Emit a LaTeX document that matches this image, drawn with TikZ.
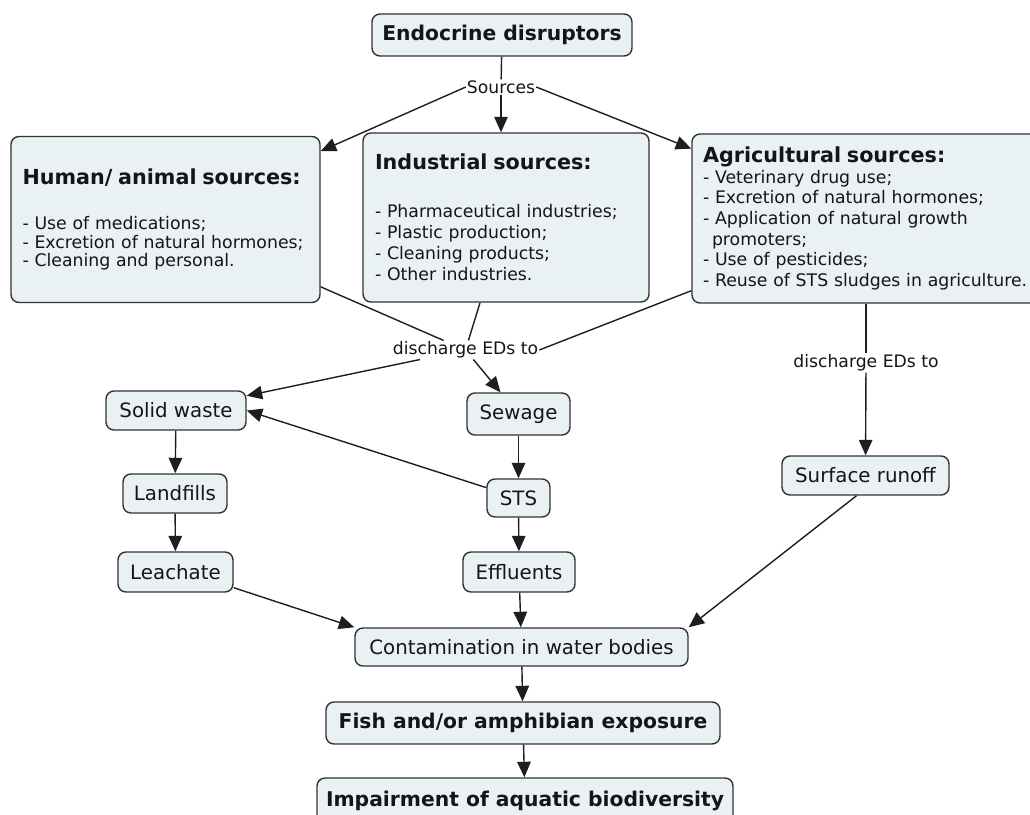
\documentclass[tikz,border=0pt]{standalone}
\usepackage{fontspec}
\setmainfont{DejaVu Sans}
\usetikzlibrary{arrows.meta}
\definecolor{boxfill}{HTML}{EAF1F4}
\definecolor{boxline}{HTML}{333333}
\definecolor{lineclr}{HTML}{1E1E1E}
\definecolor{txt}{HTML}{151515}
\tikzset{
  box/.style={draw=boxline, fill=boxfill, rounded corners=8pt, line width=1.4pt, inner sep=0pt, text=txt},
  smallbox/.style={box, font=\fontsize{19.8}{23}\selectfont},
  boldbox/.style={box, font=\bfseries\fontsize{20.3}{24}\selectfont},
  bigbox/.style={box, align=left, font=\fontsize{17.3}{20.6}\selectfont},
  lbl/.style={font=\fontsize{17.2}{20}\selectfont, inner sep=1pt, text=txt},
  conn/.style={line width=1.4pt, draw=lineclr},
  arr/.style={conn, -{Triangle[length=15.5pt,width=13.5pt]}},
}
\newcommand{\hd}[1]{{\bfseries\fontsize{20.7}{24}\selectfont #1}}
\begin{document}
\begin{tikzpicture}[x=1pt,y=-1pt]
\useasboundingbox (0,0) rectangle (1030,814);
% top
\node[boldbox, minimum width=260pt, minimum height=42pt] (ed) at (502,35) {Endocrine disruptors};
\node[lbl] (src) at (501,87) {Sources};
% source boxes
\node[bigbox, minimum width=309pt, minimum height=166pt, text width=286pt,
      font=\fontsize{17.3}{18.3}\selectfont] (human) at (165.5,219.5)
  {\hd{Human/ animal sources:}\\[27pt]
   - Use of medications;\\
   - Excretion of natural hormones;\\
   - Cleaning and personal.};
\node[bigbox, minimum width=286pt, minimum height=169pt, text width=262pt,
      font=\fontsize{17.3}{21}\selectfont] (ind) at (506,217.5)
  {\hd{Industrial sources:}\\[27pt]
   - Pharmaceutical industries;\\
   - Plastic production;\\
   - Cleaning products;\\
   - Other industries.};
\node[bigbox, minimum width=352pt, minimum height=169pt, text width=330pt] (agri) at (868,218.5)
  {\hd{Agricultural sources:}\\
   - Veterinary drug use;\\
   - Excretion of natural hormones;\\
   - Application of natural growth\\
   \hspace*{9pt}promoters;\\
   - Use of pesticides;\\
   - Reuse of STS sludges in agriculture.};
% labels
\node[lbl] (dis1) at (465.5,350) {discharge EDs to};
\node[lbl] (dis2) at (866,363) {discharge EDs to};
% middle nodes
\node[smallbox, minimum width=140pt, minimum height=39pt] (solid) at (176,410.5) {Solid waste};
\node[smallbox, minimum width=103pt, minimum height=42pt] (sewage) at (518.5,414) {Sewage};
\node[smallbox, minimum width=104pt, minimum height=39pt] (land) at (175,493.5) {Landfills};
\node[smallbox, minimum width=63pt, minimum height=38pt] (sts) at (518.5,498) {STS};
\node[smallbox, minimum width=115pt, minimum height=40pt] (leach) at (175.5,572) {Leachate};
\node[smallbox, minimum width=112pt, minimum height=40pt] (eff) at (519,572) {Effluents};
\node[smallbox, minimum width=167pt, minimum height=39pt] (sr) at (865.5,475.5) {Surface runoff};
\node[smallbox, minimum width=333pt, minimum height=38pt] (cont) at (521.5,647) {Contamination in water bodies};
\node[boldbox, minimum width=394pt, minimum height=42pt] (fish) at (523,723) {Fish and/or amphibian exposure};
\node[boldbox, minimum width=416pt, minimum height=46pt] (imp) at (525,801) {Impairment of aquatic biodiversity};
% connectors
\draw[conn] (ed) -- (src);
\draw[arr] (src.west) -- (human);
\draw[arr] (src.south) -- (src.south |- ind.north);
\draw[arr] (src.east) -- (agri);
\draw[conn] (human) -- (dis1);
\draw[conn] (ind) -- (dis1);
\draw[conn] ([yshift=13pt]agri.south west) -- (dis1.east);
\draw[arr] (dis1) -- (solid);
\draw[arr] (dis1) -- (sewage);
\draw[conn] (dis2 |- agri.south) -- (dis2);
\draw[arr] (dis2) -- (sr);
\draw[arr] (solid) -- (land);
\draw[arr] (land) -- (leach);
\draw[arr] (sewage) -- (sts);
\draw[arr] (sts) -- (eff);
\draw[arr] (sts) -- (solid.east);
\draw[arr] ([yshift=5pt]leach.south east) -- (cont.north west);
\draw[arr] (eff) -- (cont);
\draw[arr] ([xshift=-9pt]sr.south) -- (cont.north east);
\draw[arr] (cont) -- (fish);
\draw[arr] (fish) -- (imp);
\end{tikzpicture}
\end{document}
